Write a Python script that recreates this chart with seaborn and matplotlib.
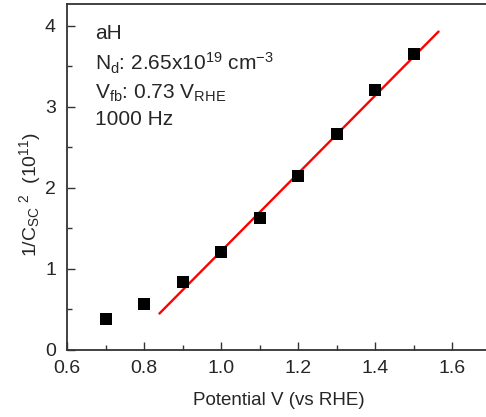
import numpy as np
import pandas as pd
import matplotlib
matplotlib.use("Agg")
import matplotlib.pyplot as plt
import seaborn as sns

# data
potential = [0.7, 0.8, 0.9, 1.0, 1.1, 1.2, 1.3, 1.4, 1.5]
inv_c2 = [0.38, 0.57, 0.84, 1.21, 1.63, 2.15, 2.67, 3.21, 3.65]
fit_x = [0.84, 1.565]
fit_y = [0.45, 3.93]

notes = ["aH",
         r"N$_{d}$: 2.65x10$^{19}$ cm$^{-3}$",
         r"V$_{fb}$: 0.73 V$_{RHE}$",
         "1000 Hz"]

sns.set_style("ticks")
plt.rcParams["font.family"] = ["Liberation Sans", "DejaVu Sans"]
plt.rcParams["mathtext.default"] = "regular"
plt.rcParams["axes.unicode_minus"] = False
plt.rcParams["xtick.direction"] = "in"
plt.rcParams["ytick.direction"] = "in"

fig = plt.figure(figsize=(4.86, 4.17), dpi=100)
ax = fig.add_axes([0.1379, 0.1607, 0.8714, 0.8297])

df = pd.DataFrame({"V": potential, "y": inv_c2})
ax.plot(fit_x, fit_y, color="#ff0000", lw=1.7, zorder=2)
sns.scatterplot(data=df, x="V", y="y", marker="s", s=85, color="black",
                edgecolor="black", linewidth=0, ax=ax, zorder=3)

ax.set_xlim(0.6, 1.7)
ax.set_ylim(0, 4.27)
ax.set_xticks([0.6, 0.8, 1.0, 1.2, 1.4, 1.6])
ax.set_xticks(np.arange(0.7, 1.7, 0.2), minor=True)
ax.set_yticks([0, 1, 2, 3, 4])
ax.set_yticks([0.5, 1.5, 2.5, 3.5], minor=True)
ax.tick_params(which="major", length=6, width=1, labelsize=14, color="#333333")
ax.tick_params(axis="y", which="major", pad=8)
ax.tick_params(axis="x", which="major", pad=7)
ax.tick_params(which="minor", length=3.5, width=1, color="#333333")
for s in ax.spines.values():
    s.set_color("#333333")
    s.set_linewidth(1.3)

ax.set_xlabel("Potential V (vs RHE)", fontsize=13.5, labelpad=11)
ax.set_ylabel(r"1/C$_{SC}$$^{\ 2}$  (10$^{11}$)", fontsize=14)
ax.yaxis.set_label_coords(-0.056, 0.45)

ys = [0.916, 0.829, 0.743, 0.665]
for txt, yy in zip(notes, ys):
    ax.text(0.066, yy, txt, transform=ax.transAxes, fontsize=15,
            va="center", ha="left")

fig.savefig("out.png", dpi=100)
